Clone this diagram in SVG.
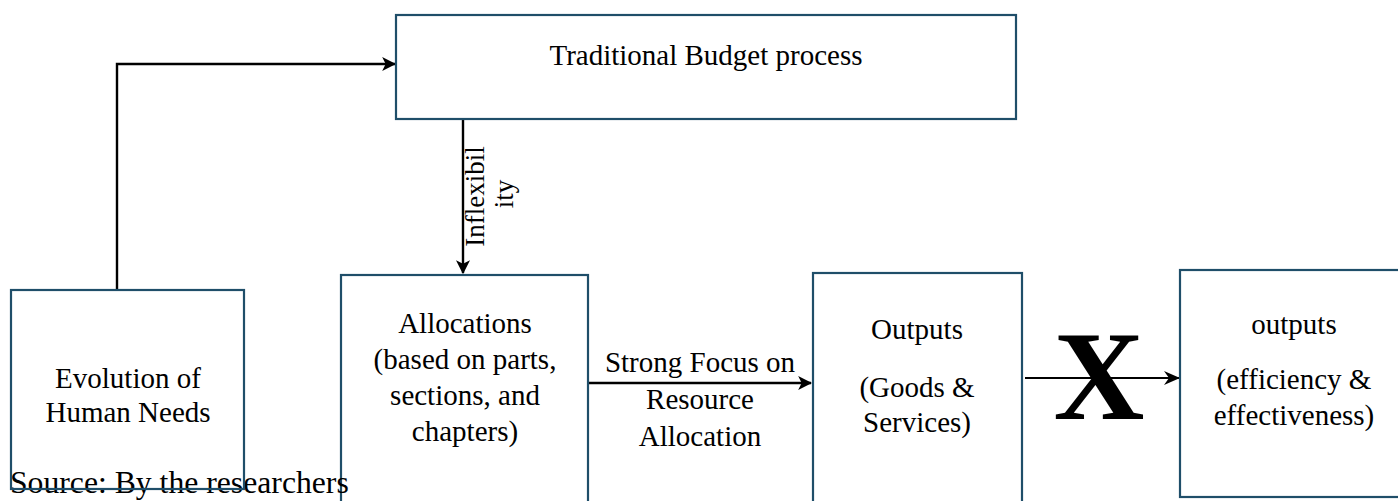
<svg xmlns="http://www.w3.org/2000/svg" width="1398" height="501" viewBox="0 0 1398 501">
  <style>
    .box { fill: #ffffff; stroke: #1f4e69; stroke-width: 2.2; }
    .hollow { fill: none; }
    .lbl { font-family: "Liberation Serif", "Times New Roman", serif; font-size: 29px; fill: #000000; text-anchor: middle; }
    .vlbl { font-size: 27px; }
    .big { font-size: 126px; font-weight: bold; }
    .note { font-family: "Liberation Serif", "Times New Roman", serif; font-size: 31.7px; fill: #000000; }
    .edge { fill: none; stroke: #000000; stroke-width: 2.4; }
    .thin { fill: none; stroke: #000000; stroke-width: 1.8; }
  </style>
  <defs>
    <marker id="tri" viewBox="0 0 12 12" refX="11" refY="6" markerUnits="userSpaceOnUse" markerWidth="14" markerHeight="14" orient="auto">
      <path d="M0,0 L12,6 L0,12 L3,6 Z" fill="#000000"/>
    </marker>
    <marker id="open" viewBox="0 0 16 16" refX="15" refY="8" markerUnits="userSpaceOnUse" markerWidth="16" markerHeight="16" orient="auto">
      <path d="M0,1 L16,8 L0,15 L5,8 Z" fill="#000000"/>
    </marker>
  </defs>

  <rect width="1398" height="501" fill="#ffffff"/>

  <!-- connectors -->
  <g id="connectors">
    <polyline class="edge" points="117,290 117,64 395,64" marker-end="url(#tri)"/>
    <line class="edge" x1="463" y1="119" x2="463" y2="273" marker-end="url(#tri)"/>
    <line class="edge" x1="589" y1="383" x2="811" y2="383" marker-end="url(#tri)"/>
    <line class="thin" x1="1025" y1="378" x2="1179" y2="378" marker-end="url(#open)"/>
  </g>

  <!-- nodes -->
  <g id="node-budget">
    <rect class="box" x="396" y="15" width="620" height="104"/>
    <text class="lbl" x="706" y="65">Traditional Budget process</text>
  </g>

  <g id="node-allocations">
    <rect class="box" x="341" y="275" width="247" height="240"/>
    <text class="lbl" x="465" y="333">Allocations</text>
    <text class="lbl" x="465" y="369">(based on parts,</text>
    <text class="lbl" x="465" y="405">sections, and</text>
    <text class="lbl" x="465" y="441">chapters)</text>
  </g>

  <g id="node-outputs">
    <rect class="box" x="813" y="273" width="209" height="240"/>
    <text class="lbl" x="917" y="339">Outputs</text>
    <text class="lbl" x="917" y="397">(Goods &amp;</text>
    <text class="lbl" x="917" y="432">Services)</text>
  </g>

  <g id="node-results">
    <rect class="box" x="1180" y="270" width="230" height="227"/>
    <text class="lbl" x="1294" y="334">outputs</text>
    <text class="lbl" x="1294" y="389">(efficiency &amp;</text>
    <text class="lbl" x="1294" y="425">effectiveness)</text>
  </g>

  <!-- caption runs across the lower edge of the first box -->
  <text class="note" x="10" y="493">Source: By the researchers</text>

  <g id="node-needs">
    <rect class="box hollow" x="11" y="290" width="233" height="199"/>
    <text class="lbl" x="128" y="388">Evolution of</text>
    <text class="lbl" x="128" y="422">Human Needs</text>
  </g>

  <!-- connector labels -->
  <g id="labels">
    <text class="lbl vlbl" transform="translate(484,196.5) rotate(-90)">Inflexibil</text>
    <text class="lbl vlbl" transform="translate(513,194) rotate(-90)">ity</text>
    <text class="lbl" x="700" y="372">Strong Focus on</text>
    <text class="lbl" x="700" y="409">Resource</text>
    <text class="lbl" x="700" y="446">Allocation</text>
    <text class="lbl big" x="1099" y="419">X</text>
  </g>
</svg>
